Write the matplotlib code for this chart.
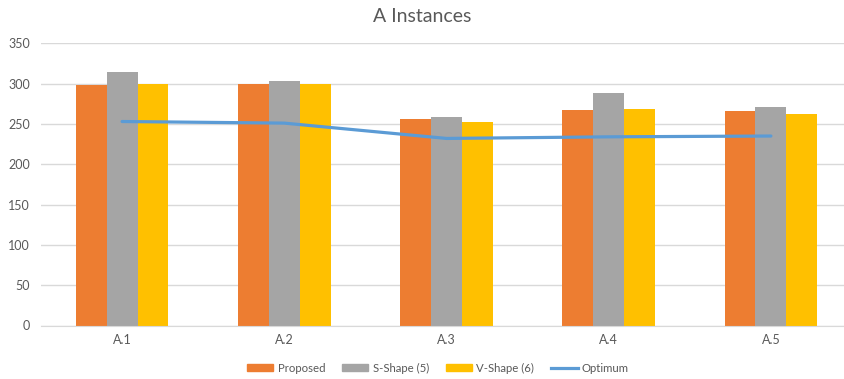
import numpy as np
import matplotlib.pyplot as plt
from matplotlib.patches import Patch
from matplotlib.lines import Line2D

plt.rcParams['font.family'] = ['Lato', 'DejaVu Sans']

categories = ['A.1', 'A.2', 'A.3', 'A.4', 'A.5']
proposed = [298, 300, 256, 267, 266]
s_shape = [314, 303, 258, 288, 271]
v_shape = [300, 300, 253, 269, 262]
optimum = [253, 251, 232, 234, 235]

c_prop = '#ed7d31'
c_s = '#a5a5a5'
c_v = '#ffc000'
c_opt = '#5b9bd5'
txt = '#595959'

fig = plt.figure(figsize=(8.44, 3.79), dpi=100)
ax = fig.add_axes([41/844, 1-325.5/379, 811/844, (325.5-43.3)/379])

x = np.arange(len(categories))
w = 0.19
ax.bar(x - w, proposed, w, color=c_prop, zorder=2)
ax.bar(x, s_shape, w, color=c_s, zorder=2)
ax.bar(x + w, v_shape, w, color=c_v, zorder=2)
ax.plot(x, optimum, color=c_opt, lw=2.3, zorder=3, solid_capstyle='round')

ax.set_xlim(-0.5, 4.5)
ax.set_ylim(0, 350)
ax.set_yticks(range(0, 351, 50))
ax.set_xticks(x)
ax.set_xticklabels(categories)
ax.yaxis.grid(True, color='#d9d9d9', lw=1)
ax.set_axisbelow(True)
for s in ['top', 'right', 'left']:
    ax.spines[s].set_visible(False)
ax.spines['bottom'].set_color('#d9d9d9')
ax.tick_params(axis='both', length=0, labelsize=9, colors=txt)
ax.tick_params(axis='y', pad=8)
ax.tick_params(axis='x', pad=6)

fig.text(0.5, 1-17/379, 'A Instances', ha='center', va='center', fontsize=14, color=txt)

handles = [Patch(color=c_prop), Patch(color=c_s), Patch(color=c_v),
           Line2D([0], [0], color=c_opt, lw=2.3)]
labels = ['Proposed', 'S-Shape (5)', 'V-Shape (6)', 'Optimum']
fig.legend(handles, labels, loc='center', bbox_to_anchor=(438/844, 1-368/379),
           ncol=4, frameon=False, fontsize=8.2, labelcolor=txt,
           handlelength=2.3, handleheight=0.65, handletextpad=0.37, columnspacing=1.5)

fig.savefig('out.png', dpi=100)
